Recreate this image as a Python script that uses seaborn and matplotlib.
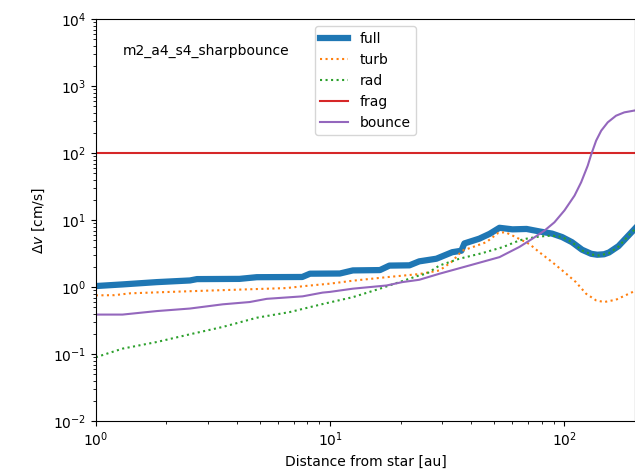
import matplotlib
matplotlib.use("Agg")
import matplotlib.pyplot as plt
import seaborn as sns

# Relative velocities between dust grains vs. distance from the star
full_r = [1.0, 1.3, 1.82, 2.52, 2.7, 4.1, 4.86, 7.6, 8.2, 11.0, 12.5, 16.3, 17.9,
          21.8, 24.0, 28.4, 33.2, 36.3, 37.4, 43.3, 47.9, 52.8, 60.0, 68.9, 78.1,
          88.6, 97.7, 107.6, 118.9, 130.0, 138.0, 147.6, 155.0, 170.0, 200.0]
full_dv = [1.04, 1.10, 1.19, 1.26, 1.32, 1.33, 1.41, 1.42, 1.59, 1.60, 1.78, 1.80, 2.10,
           2.12, 2.43, 2.66, 3.33, 3.5, 4.5, 5.3, 6.25, 7.7, 7.3, 7.4, 6.8,
           6.3, 5.6, 4.7, 3.62, 3.15, 3.05, 3.1, 3.3, 4.1, 7.5]

turb_r = [1.0, 1.2, 1.4, 2.5, 4.5, 6.5, 8.0, 10.0, 12.5, 17.4, 24.0, 29.3, 32.9,
          36.6, 40.5, 46.4, 52.3, 56.0, 60.0, 66.0, 70.9, 78.1, 88.6, 101.5,
          111.9, 123.6, 136.5, 147.6, 165.9, 200.0]
turb_dv = [0.755, 0.76, 0.81, 0.87, 0.93, 0.97, 1.05, 1.13, 1.25, 1.41, 1.57, 1.78, 2.37,
           3.5, 3.96, 4.7, 6.5, 6.6, 5.9, 5.0, 4.4, 3.33, 2.37, 1.6,
           1.19, 0.8, 0.635, 0.6, 0.65, 0.88]

rad_r = [1.0, 1.3, 1.82, 2.52, 3.48, 4.86, 6.72, 9.28, 12.5, 16.3, 21.8, 24.0, 25.8,
         29.3, 35.6, 44.5, 54.5, 64.3, 68.9, 78.1, 88.6, 97.7, 107.6, 118.9,
         129.9, 140.6, 155.0, 170.3, 193.3, 200.0]
rad_dv = [0.09, 0.121, 0.152, 0.198, 0.255, 0.35, 0.425, 0.56, 0.71, 0.95, 1.34, 1.5, 1.59,
          2.11, 2.66, 3.22, 3.96, 5.0, 5.3, 5.7, 5.9, 5.6, 4.7, 3.54,
          3.08, 2.97, 3.22, 4.05, 6.6, 7.3]

frag_dv = 100.0

bounce_r = [1.0, 1.3, 1.82, 2.52, 3.48, 4.53, 5.36, 7.63, 9.28, 9.96, 12.5, 17.4, 20.3,
            24.0, 29.3, 39.3, 52.8, 64.3, 73.0, 82.2, 90.6, 100.0, 110.4, 117.8,
            125.7, 130.0, 136.5, 143.5, 153.0, 166.0, 180.0, 200.0]
bounce_dv = [0.39, 0.39, 0.44, 0.48, 0.555, 0.6, 0.67, 0.73, 0.83, 0.85, 0.95, 1.06, 1.19,
             1.29, 1.59, 2.11, 2.81, 4.0, 5.3, 7.0, 9.3, 14.0, 23.3, 36.8,
             65.3, 95.3, 154.0, 217.0, 289.0, 363.0, 407.0, 435.0]

model_name = "m2_a4_s4_sharpbounce"

fig = plt.figure(figsize=(6.35, 4.69), dpi=100)
ax = fig.add_axes([0.151, 0.102, 0.849, 0.857])

pal = sns.color_palette("tab10")
sns.lineplot(x=full_r, y=full_dv, ax=ax, color=pal[0], lw=4.5, label="full")
sns.lineplot(x=turb_r, y=turb_dv, ax=ax, color=pal[1], lw=1.5, ls=":", label="turb")
sns.lineplot(x=rad_r, y=rad_dv, ax=ax, color=pal[2], lw=1.5, ls=":", label="rad")
ax.axhline(frag_dv, color=pal[3], lw=1.5, label="frag")
sns.lineplot(x=bounce_r, y=bounce_dv, ax=ax, color=pal[4], lw=1.5, label="bounce")

ax.set_xscale("log")
ax.set_yscale("log")
ax.set_xlim(1, 200)
ax.set_ylim(1e-2, 1e4)
ax.set_xlabel("Distance from star [au]")
ax.set_ylabel(r"$\Delta v$ [cm/s]")
ax.text(0.05, 0.92, model_name, transform=ax.transAxes, fontsize=10, va="center")
ax.legend(loc="upper center")

fig.savefig("out.png", dpi=100)
